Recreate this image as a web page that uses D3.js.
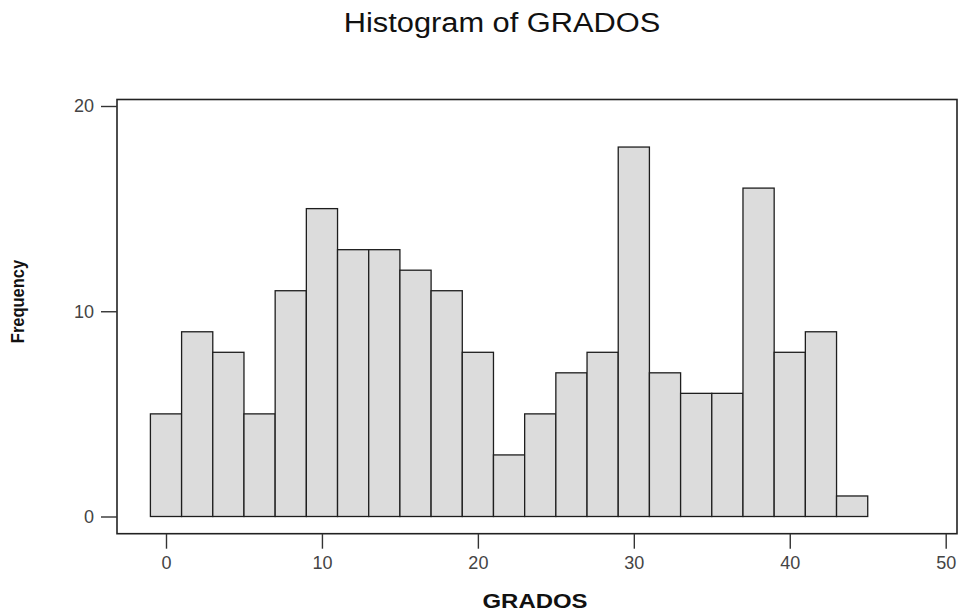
<!DOCTYPE html>
<html>
<head>
<meta charset="utf-8">
<script src="https://cdn.jsdelivr.net/npm/d3@7"></script>
<style>
  html, body { margin: 0; padding: 0; background: #fff; }
  svg { display: block; }
  text { font-family: "Liberation Sans", Arial, sans-serif; }
</style>
</head>
<body>
<svg id="chart" width="959" height="615"></svg>
<script>
// Histogram bins: lower edge of each bin (width 2) and its frequency
const binLower = [-1, 1, 3, 5, 7, 9, 11, 13, 15, 17, 19, 21, 23, 25, 27, 29, 31, 33, 35, 37, 39, 41, 43];
const binWidth = 2;
const frequency = [5, 9, 8, 5, 11, 15, 13, 13, 12, 11, 8, 3, 5, 7, 8, 18, 7, 6, 6, 16, 8, 9, 1];

// Axis ticks
const xTicks = [0, 10, 20, 30, 40, 50];
const yTicks = [0, 10, 20];

const titleText = "Histogram of GRADOS";
const xLabel = "GRADOS";
const yLabel = "Frequency";

const svg = d3.select("#chart");

// Plot frame (pixels)
const frame = { left: 117, right: 957, top: 99.5, bottom: 533.7 };

const x = d3.scaleLinear().domain([0, 50]).range([166, 945.7]);
const y = d3.scaleLinear().domain([0, 20]).range([516.5, 106]);

// Bars
const bins = binLower.map((lo, i) => ({ lo, hi: lo + binWidth, n: frequency[i] }));
svg.append("g")
  .selectAll("rect")
  .data(bins)
  .join("rect")
  .attr("x", d => x(d.lo))
  .attr("width", d => x(d.hi) - x(d.lo))
  .attr("y", d => y(d.n))
  .attr("height", d => y(0) - y(d.n))
  .attr("fill", "#dcdcdc")
  .attr("stroke", "#1e1e1e")
  .attr("stroke-width", 1.3);

// Frame
svg.append("rect")
  .attr("x", frame.left)
  .attr("y", frame.top)
  .attr("width", frame.right - frame.left)
  .attr("height", frame.bottom - frame.top)
  .attr("fill", "none")
  .attr("stroke", "#222")
  .attr("stroke-width", 1.6);

// X axis
const gx = svg.append("g")
  .attr("transform", `translate(0,${frame.bottom})`)
  .call(d3.axisBottom(x).tickValues(xTicks).tickSize(15).tickPadding(8).tickFormat(d3.format("d")));
gx.select(".domain").remove();
gx.selectAll(".tick line").attr("stroke", "#333").attr("stroke-width", 1.4);
gx.selectAll(".tick text")
  .attr("fill", "#444")
  .style("font-size", "18px")
  .style("font-family", "'Liberation Sans', Arial, sans-serif");

// Y axis
const gy = svg.append("g")
  .attr("transform", `translate(${frame.left},0)`)
  .call(d3.axisLeft(y).tickValues(yTicks).tickSize(16).tickPadding(7).tickFormat(d3.format("d")));
gy.select(".domain").remove();
gy.selectAll(".tick line").attr("stroke", "#333").attr("stroke-width", 1.4);
gy.selectAll(".tick text")
  .attr("fill", "#444")
  .style("font-size", "18px")
  .style("font-family", "'Liberation Sans', Arial, sans-serif");

// Title
svg.append("text")
  .attr("transform", "translate(502,31.5) scale(1.1,1)")
  .attr("text-anchor", "middle")
  .attr("fill", "#111")
  .style("font-size", "28px")
  .text(titleText);

// X axis title
svg.append("text")
  .attr("transform", "translate(535,607.5) scale(1.14,1)")
  .attr("text-anchor", "middle")
  .attr("fill", "#111")
  .style("font-size", "21px")
  .style("font-weight", "bold")
  .text(xLabel);

// Y axis title
svg.append("text")
  .attr("transform", "translate(24,301.5) rotate(-90) scale(1,1.1)")
  .attr("text-anchor", "middle")
  .attr("fill", "#111")
  .style("font-size", "16.5px")
  .style("font-weight", "bold")
  .text(yLabel);
</script>
</body>
</html>
